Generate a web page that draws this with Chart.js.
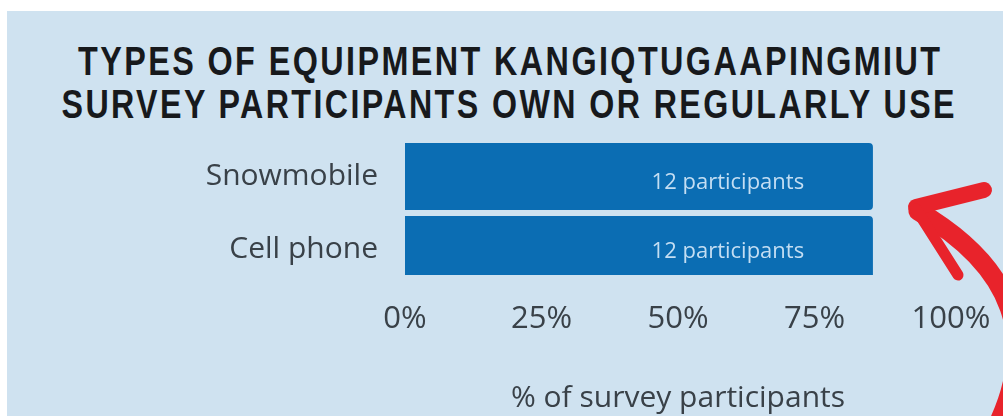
<!DOCTYPE html>
<html>
<head>
<meta charset="utf-8">
<script src="https://cdn.jsdelivr.net/npm/chart.js@4.4.1/dist/chart.umd.min.js"></script>
<style>
    html, body { margin: 0; padding: 0; background: #ffffff; }
    #wrap { position: relative; width: 1003px; height: 416px; overflow: hidden; }
    #panel { position: absolute; left: 7px; top: 11px; right: 0; bottom: 0; background: #cfe2f0; }
    .title-line {
        position: absolute; left: 0; margin: 0; color: #17191c;
        font-family: "Liberation Sans", Arial, sans-serif;
        font-weight: bold; font-size: 40px; line-height: 43px; white-space: nowrap;
        letter-spacing: 3px; transform-origin: 0 0;
    }
    canvas { position: absolute; left: 0; top: 0; }
</style>
</head>
<body>
<div id="wrap">
    <div id="panel"></div>
    <div class="title-line" style="top:40px" data-w="862" data-cx="509">TYPES OF EQUIPMENT KANGIQTUGAAPINGMIUT</div>
    <div class="title-line" style="top:83px" data-w="893" data-cx="508">SURVEY PARTICIPANTS OWN OR REGULARLY USE</div>
    <canvas id="equipChart" width="1003" height="416"></canvas>
</div>
<script>
const equipment = ['Snowmobile', 'Cell phone'];
const participants = [12, 12];
const sharePct = [85.7, 85.7];   // 12 of 14 respondents
const xTicks = [0, 25, 50, 75, 100];

const FONT = '"Open Sans", "Noto Sans", sans-serif';
const TEXT = '#394148';

// squeeze the bold heading into a condensed look
document.querySelectorAll('.title-line').forEach(s => {
    const w = s.getBoundingClientRect().width - 3;   // drop trailing letter-spacing
    const target = Number(s.dataset.w);
    const k = target / w;
    const left = Number(s.dataset.cx) - target / 2;
    s.style.transform = `translateX(${left}px) scaleX(${k})`;
});

// "12 participants" written inside each bar
const barLabels = {
    id: 'barLabels',
    afterDatasetsDraw(chart) {
        const ctx = chart.ctx;
        const meta = chart.getDatasetMeta(0);
        const area = chart.chartArea;
        ctx.save();
        ctx.fillStyle = '#c4def3';
        ctx.font = '22px ' + FONT;
        ctx.textAlign = 'center';
        ctx.textBaseline = 'middle';
        meta.data.forEach((bar, i) => {
            const x = bar.base + (bar.x - bar.base) * 0.69;
            const bottom = Math.min(bar.y + bar.height / 2, area.bottom - 11);
            const top = bar.y - bar.height / 2;
            ctx.fillText(participants[i] + ' participants', x, (top + bottom) / 2 + 6);
        });
        ctx.restore();
    }
};

// red hand-drawn arrow pointing back at the bars
const redArrow = {
    id: 'redArrow',
    afterDraw(chart) {
        const ctx = chart.ctx;
        const a = chart.chartArea;
        const tipX = a.right - 39, tipY = a.top + 67;
        ctx.save();
        ctx.strokeStyle = '#e8232b';
        ctx.lineCap = 'round';
        ctx.lineJoin = 'round';
        ctx.lineWidth = 19;
        ctx.beginPath();
        ctx.moveTo(tipX + 6, tipY + 4);
        ctx.quadraticCurveTo(tipX + 150, tipY + 88, tipX + 83, tipY + 223);
        ctx.stroke();
        ctx.lineWidth = 16;
        ctx.beginPath();
        ctx.moveTo(tipX + 72, tipY - 17);
        ctx.lineTo(tipX + 4, tipY);
        ctx.stroke();
        ctx.lineWidth = 11;
        ctx.beginPath();
        ctx.moveTo(tipX + 4, tipY + 2);
        ctx.lineTo(tipX + 46, tipY + 68);
        ctx.stroke();
        ctx.restore();
    }
};

new Chart(document.getElementById('equipChart').getContext('2d'), {
    type: 'bar',
    data: {
        labels: equipment,
        datasets: [{
            data: sharePct,
            backgroundColor: '#0b6db3',
            borderRadius: 4,
            borderSkipped: 'start',
            categoryPercentage: 1,
            barPercentage: 0.918,
            clip: { left: 0, top: 0, right: 0, bottom: -11 }
        }]
    },
    options: {
        indexAxis: 'y',
        responsive: false,
        animation: false,
        layout: { padding: { top: 140, right: 52, left: 0, bottom: 0 } },
        plugins: {
            legend: { display: false },
            tooltip: { enabled: false }
        },
        scales: {
            x: {
                min: 0,
                max: 100,
                afterBuildTicks: scale => { scale.ticks = xTicks.map(v => ({ value: v })); },
                afterFit: scale => { scale.height = 130; },
                grid: { display: false },
                border: { display: false },
                ticks: {
                    padding: 7,
                    color: TEXT,
                    font: { family: FONT, size: 31 },
                    callback: v => v + '%'
                },
                title: {
                    display: true,
                    text: '% of survey participants',
                    color: TEXT,
                    font: { family: FONT, size: 30 },
                    padding: { top: 0, bottom: 0 }
                }
            },
            y: {
                afterFit: scale => { scale.width = 405; },
                grid: { display: false },
                border: { display: false },
                ticks: {
                    padding: 19,
                    color: TEXT,
                    font: { family: FONT, size: 30 }
                }
            }
        }
    },
    plugins: [barLabels, redArrow]
});
</script>
</body>
</html>
